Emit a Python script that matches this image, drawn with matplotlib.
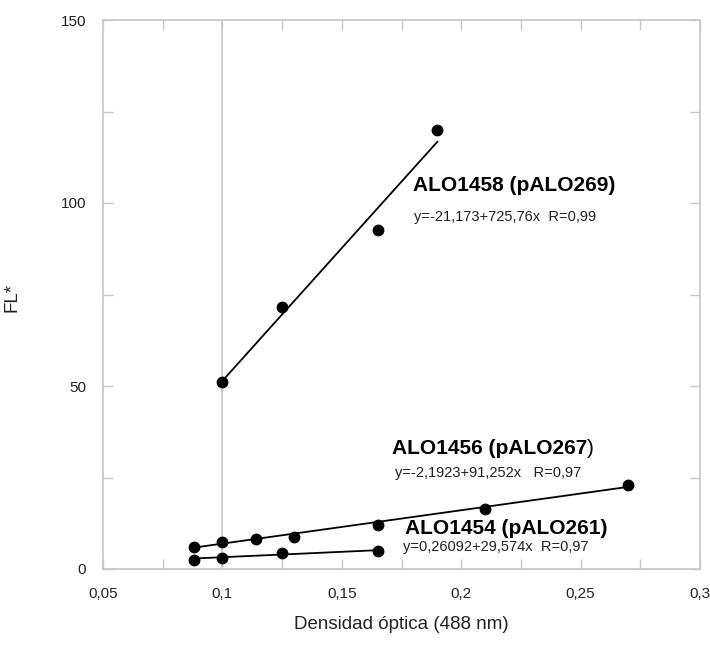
import matplotlib
matplotlib.use("Agg")
import matplotlib.pyplot as plt
from matplotlib.ticker import FixedLocator, MultipleLocator
import numpy as np

plt.rcParams['font.family'] = ['Liberation Sans', 'DejaVu Sans']

# Measured fluorescence vs optical density for each strain
x_1458 = [0.1, 0.125, 0.165, 0.19]
y_1458 = [51.2, 71.7, 92.6, 120.0]

x_1456 = [0.088, 0.1, 0.114, 0.13, 0.165, 0.21, 0.27]
y_1456 = [6.1, 7.5, 8.1, 8.7, 12.0, 16.4, 23.0]

x_1454 = [0.088, 0.1, 0.125, 0.165]
y_1454 = [2.5, 2.9, 4.3, 4.9]

# Linear fits (intercept, slope, R)
fit_1458 = (-21.173, 725.76, 0.99)
fit_1456 = (-2.1923, 91.252, 0.97)
fit_1454 = (0.26092, 29.574, 0.97)

names = ["ALO1458 (pALO269)", "ALO1456 (pALO267", "ALO1454 (pALO261)"]
eq_labels = ["y=-21,173+725,76x  R=0,99",
             "y=-2,1923+91,252x   R=0,97",
             "y=0,26092+29,574x  R=0,97"]

x_ticks = [0.05, 0.1, 0.15, 0.2, 0.25, 0.3]
x_ticklabels = ["0,05", "0,1", "0,15", "0,2", "0,25", "0,3"]
y_ticks = [0, 50, 100, 150]
y_ticklabels = ["0", "50", "100", "150"]

frame_col = "#c8c8c8"

fig = plt.figure(figsize=(7.1, 6.49), dpi=100)
ax = fig.add_axes([103/710, 1 - 569/649, 597/710, 549/649])

ax.axvline(0.1, color=frame_col, lw=1.3, zorder=1)

for xs, ys, fit in [(x_1458, y_1458, fit_1458),
                    (x_1456, y_1456, fit_1456),
                    (x_1454, y_1454, fit_1454)]:
    b, m, _ = fit
    xl = np.array([min(xs), max(xs)])
    ax.plot(xl, b + m * xl, color="black", lw=1.3, zorder=2)
    ax.plot(xs, ys, 'o', color="black", ms=7.5, zorder=3)

# Strain names and fit equations
title_kw = dict(fontsize=15, fontweight="bold", va="center", ha="left")
eq_kw = dict(fontsize=10.5, va="center", ha="left", color="#222222")

ax.text(0.1798, 104.9, names[0], **title_kw)
ax.text(0.1802, 96.2, eq_labels[0], **eq_kw)

t2 = ax.text(0.171, 32.8, names[1], **title_kw)
ax.annotate(")", xy=(1, 0.5), xycoords=t2, va="center", ha="left",
            fontsize=15)
ax.text(0.1723, 26.2, eq_labels[1], **eq_kw)

ax.text(0.1765, 11.2, names[2], **title_kw)
ax.text(0.1757, 6.0, eq_labels[2], **eq_kw)

ax.set_xlim(0.05, 0.3)
ax.set_ylim(0, 150)
ax.xaxis.set_major_locator(FixedLocator(x_ticks))
ax.set_xticklabels(x_ticklabels)
ax.xaxis.set_minor_locator(MultipleLocator(0.025))
ax.yaxis.set_major_locator(FixedLocator(y_ticks))
ax.set_yticklabels(y_ticklabels)
ax.yaxis.set_minor_locator(MultipleLocator(25))

ax.tick_params(which="both", direction="in", top=True, right=True,
               length=7, width=1.0, color=frame_col, labelsize=11,
               labelcolor="#222222")
ax.tick_params(axis="x", which="major", pad=13)
ax.tick_params(axis="y", which="major", pad=12)

for sp in ax.spines.values():
    sp.set_color(frame_col)
    sp.set_linewidth(1.3)

ax.set_xlabel("Densidad óptica (488 nm)", fontsize=13.5, color="#222222")
ax.set_ylabel("FL*", fontsize=13.5, color="#222222")
ax.xaxis.set_label_coords(0.5, -0.085)
ax.yaxis.set_label_coords(-0.139, 0.495)

fig.savefig("out.png", dpi=100)
